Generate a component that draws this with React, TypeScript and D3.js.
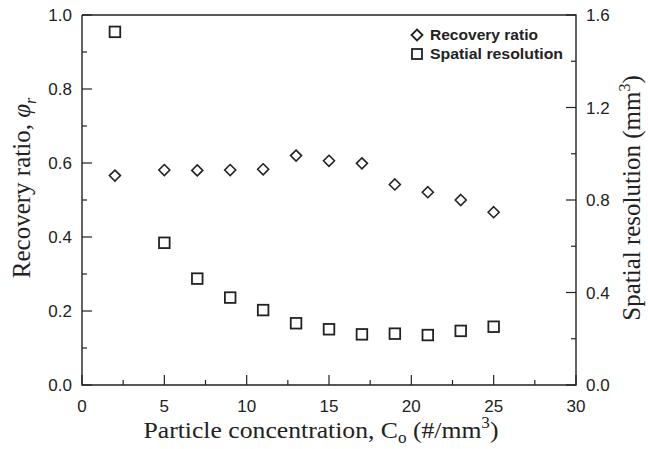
import React from "react";
import * as d3 from "d3";

const concentration = [2, 5, 7, 9, 11, 13, 15, 17, 19, 21, 23, 25];
const recoveryRatio = [0.566, 0.581, 0.58, 0.581, 0.583, 0.62, 0.606, 0.599, 0.542, 0.521, 0.5, 0.467];
const spatialResolution = [1.527, 0.615, 0.46, 0.378, 0.324, 0.267, 0.241, 0.219, 0.222, 0.216, 0.234, 0.252];

const xMajor = [0, 5, 10, 15, 20, 25, 30];
const xMinor = [2.5, 7.5, 12.5, 17.5, 22.5, 27.5];
const leftMajor = [0, 0.2, 0.4, 0.6, 0.8, 1.0];
const leftMinor = [0.1, 0.3, 0.5, 0.7, 0.9];
const rightMajor = [0, 0.4, 0.8, 1.2, 1.6];
const rightMinor = [0.2, 0.6, 1.0, 1.4];

const W = 648, H = 449;
const m = { left: 82, right: 72, top: 15, bottom: 64 };

export default function App() {
  const x = d3.scaleLinear().domain([0, 30]).range([m.left, W - m.right]);
  const yL = d3.scaleLinear().domain([0, 1]).range([H - m.bottom, m.top]);
  const yR = d3.scaleLinear().domain([0, 1.6]).range([H - m.bottom, m.top]);
  const x0 = x(0), x1 = x(30), yb = yL(0), yt = yL(1);
  const ink = "#222";
  const sans = "Liberation Sans, Arial, sans-serif";
  const serif = "Liberation Serif, Times New Roman, serif";
  const diamond = (cx: number, cy: number, r = 5.5) =>
    `M${cx},${cy - r}L${cx + r},${cy}L${cx},${cy + r}L${cx - r},${cy}Z`;

  return (
    <svg width={W} height={H} style={{ position: "absolute", left: 0, top: 0, background: "#fff" }}>
      {/* frame */}
      <path d={`M${x0},${yt}V${yb}H${x1}V${yt}H${x0}`} fill="none" stroke={ink} strokeWidth={1.4} />

      {/* bottom ticks */}
      {xMajor.map(v => (
        <g key={"xM" + v}>
          <line x1={x(v)} x2={x(v)} y1={yb} y2={yb - 10} stroke={ink} strokeWidth={1.2} />
          <text x={x(v)} y={yb + 27} textAnchor="middle" fontFamily={sans} fontSize={17} fill={ink}>{v}</text>
        </g>
      ))}
      {xMinor.map(v => (
        <line key={"xm" + v} x1={x(v)} x2={x(v)} y1={yb} y2={yb - 5} stroke={ink} strokeWidth={1.2} />
      ))}

      {/* left ticks */}
      {leftMajor.map(v => (
        <g key={"lM" + v}>
          <line x1={x0} x2={x0 + 10} y1={yL(v)} y2={yL(v)} stroke={ink} strokeWidth={1.2} />
          <text x={x0 - 10} y={yL(v) + 6} textAnchor="end" fontFamily={sans} fontSize={17} fill={ink}>{v.toFixed(1)}</text>
        </g>
      ))}
      {leftMinor.map(v => (
        <line key={"lm" + v} x1={x0} x2={x0 + 5} y1={yL(v)} y2={yL(v)} stroke={ink} strokeWidth={1.2} />
      ))}

      {/* right ticks */}
      {rightMajor.map(v => (
        <g key={"rM" + v}>
          <line x1={x1} x2={x1 - 10} y1={yR(v)} y2={yR(v)} stroke={ink} strokeWidth={1.2} />
          <text x={x1 + 10} y={yR(v) + 6} textAnchor="start" fontFamily={sans} fontSize={17} fill={ink}>{v.toFixed(1)}</text>
        </g>
      ))}
      {rightMinor.map(v => (
        <line key={"rm" + v} x1={x1} x2={x1 - 5} y1={yR(v)} y2={yR(v)} stroke={ink} strokeWidth={1.2} />
      ))}

      {/* data */}
      {concentration.map((c, i) => (
        <path key={"d" + c} d={diamond(x(c), yL(recoveryRatio[i]))} fill="none" stroke={ink} strokeWidth={1.6} />
      ))}
      {concentration.map((c, i) => (
        <rect key={"s" + c} x={x(c) - 5.3} y={yR(spatialResolution[i]) - 5.3} width={10.6} height={10.6}
          fill="none" stroke={ink} strokeWidth={1.8} />
      ))}

      {/* legend */}
      <path d={diamond(417, 35)} fill="none" stroke={ink} strokeWidth={1.8} />
      <text x={430} y={40} fontFamily={sans} fontWeight="bold" fontSize={14} fill={ink}
        textLength={108} lengthAdjust="spacingAndGlyphs">Recovery ratio</text>
      <rect x={412} y={49} width={10} height={10} fill="none" stroke={ink} strokeWidth={1.8} />
      <text x={430} y={59} fontFamily={sans} fontWeight="bold" fontSize={14} fill={ink}
        textLength={133} lengthAdjust="spacingAndGlyphs">Spatial resolution</text>

      {/* axis titles */}
      <text x={(x0 + x1) / 2 - 8} y={438} textAnchor="middle" fontFamily={serif} fontSize={24} fill={ink}
        textLength={355} lengthAdjust="spacingAndGlyphs">
        Particle concentration, C<tspan fontSize={16} dy={5}>o</tspan>
        <tspan dy={-5}> (#/mm</tspan><tspan fontSize={16} dy={-10}>3</tspan><tspan dy={10}>)</tspan>
      </text>
      <text transform={`translate(30,188) rotate(-90)`} textAnchor="middle" fontFamily={serif} fontSize={25} fill={ink}>
        Recovery ratio, <tspan fontStyle="italic">φ</tspan><tspan fontStyle="italic" fontSize={16} dy={6}>r</tspan>
      </text>
      <text transform={`translate(640,198) rotate(-90)`} textAnchor="middle" fontFamily={serif} fontSize={25} fill={ink}>
        Spatial resolution (mm<tspan fontSize={16} dy={-10}>3</tspan><tspan dy={10}>)</tspan>
      </text>
    </svg>
  );
}
